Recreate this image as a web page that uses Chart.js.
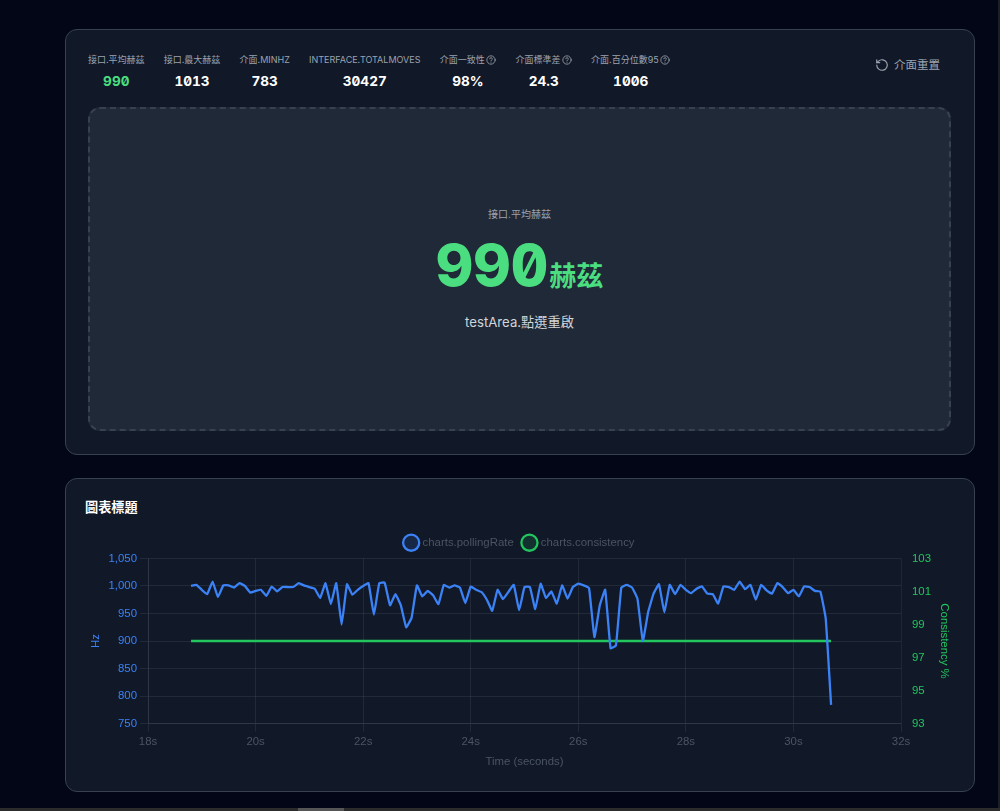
<!DOCTYPE html>
<html lang="zh-Hant">
<head>
<meta charset="utf-8">
<title>圖表標題</title>
<script src="https://cdn.jsdelivr.net/npm/chart.js@4"></script>
<style>
*{box-sizing:border-box}
html,body{margin:0;height:100%;overflow:hidden;background:#020617;color:#fff;font-family:Inter,"Noto Sans CJK TC",sans-serif}
.card{position:absolute;left:65px;width:910px;background:#111827;border:1px solid #374151;border-radius:12px}
#topCard{top:29px;height:426px}
#chartCard{top:478px;height:314px}
#stats{position:absolute;left:22px;top:24px;display:flex;gap:19.2px}
.stat{display:flex;flex-direction:column;align-items:center;white-space:nowrap}
.stat .lbl{font-size:9px;line-height:12px;color:#9ca3af;display:flex;align-items:center;gap:1.5px}
.stat .val{font:bold 13.6px Inter,sans-serif;font-feature-settings:"zero","tnum";line-height:18px;margin-top:6px;color:#fff}
.stat .val.green{color:#4ade80}
.q{width:10px;height:10px}
#reset{position:absolute;left:809px;top:27px;display:flex;align-items:center;gap:5px;font-size:11.5px;line-height:16px;color:#9ca3af}
#testArea{position:absolute;left:22px;top:77px;width:863px;height:324px;background:#1f2937;border:2px dashed #374151;border-radius:12px}
#areaLbl{position:absolute;left:0;right:0;top:99px;text-align:center;font-size:10px;line-height:12px;color:#9ca3af}
#bigVal{position:absolute;left:0;right:0;top:120px;display:flex;justify-content:center;align-items:baseline;color:#4ade80}
#bigVal b{font:800 58px Inter,sans-serif;font-feature-settings:"zero","tnum";line-height:72px}
#bigVal span{font-size:27px;font-weight:600;margin-left:1px}
#hint{position:absolute;left:0;right:0;top:204px;text-align:center;font-size:13.2px;line-height:18px;color:#d1d5db}
#chartTitle{position:absolute;left:19px;top:20px;font-size:13.2px;font-weight:bold;line-height:16px;color:#fff}
#chartBox{position:absolute;left:19px;top:48px;width:870px;height:246px}
#barBottom{position:absolute;left:0;right:0;top:808px;height:3px;background:#2b2b2b}
#thumb{position:absolute;left:298px;top:808px;width:46px;height:3px;background:#555}
#barRight{position:absolute;left:998px;top:0;width:2px;height:808px;background:#1a1f2b}
</style>
</head>
<body>
<div class="card" id="topCard">
  <div id="stats"></div>
  <div id="reset">
    <svg width="14" height="14" viewBox="0 0 24 24" fill="none" stroke="#9ca3af" stroke-width="2" stroke-linecap="round" stroke-linejoin="round"><path d="M3 12a9 9 0 1 0 3-6.7L3 8"/><path d="M3 3v5h5"/></svg>
    <span>介面重置</span>
  </div>
  <div id="testArea">
    <div id="areaLbl">接口.平均赫茲</div>
    <div id="bigVal"><b>990</b><span>赫茲</span></div>
    <div id="hint">testArea.點選重啟</div>
  </div>
</div>
<div class="card" id="chartCard">
  <div id="chartTitle">圖表標題</div>
  <div id="chartBox"><canvas id="rateChart"></canvas></div>
</div>
<div id="barRight"></div><div id="barBottom"></div><div id="thumb"></div>
<script>
// =======================
// DATA
// =======================
const statLabels = ["接口.平均赫茲","接口.最大赫茲","介面.MINHZ","INTERFACE.TOTALMOVES","介面一致性","介面標準差","介面.百分位數95"];
const statValues = ["990","1013","783","30427","98%","24.3","1006"];
const statHelp = [false,false,false,false,true,true,true];

const times = [
  18.8,18.9,19.0,19.1,19.2,19.3,19.4,19.5,19.6,19.7,19.8,19.9,
  20.0,20.1,20.2,20.3,20.4,20.5,20.6,20.7,20.8,20.9,21.0,21.1,21.2,21.3,21.4,21.5,21.6,21.7,21.8,21.9,
  22.0,22.1,22.2,22.3,22.4,22.5,22.6,22.7,22.8,22.9,23.0,23.1,23.2,23.3,23.4,23.5,23.6,23.7,23.8,23.9,
  24.0,24.1,24.2,24.3,24.4,24.5,24.6,24.7,24.8,24.9,25.0,25.1,25.2,25.3,25.4,25.5,25.6,25.7,25.8,25.9,
  26.0,26.1,26.2,26.3,26.4,26.5,26.6,26.7,26.8,26.9,27.0,27.1,27.2,27.3,27.4,27.5,27.6,27.7,27.8,27.9,
  28.0,28.1,28.2,28.3,28.4,28.5,28.6,28.7,28.8,28.9,29.0,29.1,29.2,29.3,29.4,29.5,29.6,29.7,29.8,29.9,
  30.0,30.1,30.2,30.3,30.4,30.5,30.6,30.7
];
const pollingRate = [
  1000,1002,993,985,1008,980,1001,1001,997,1005,1000,988,
  991,993,982,999,990,998,998,998,1005,1001,998,995,978,1005,967,1005,930,1003,984,993,
  1000,1005,948,1005,1006,965,985,965,925,942,1001,981,991,983,967,1002,997,1001,997,969,
  999,993,989,975,955,993,976,989,1002,956,998,998,958,1004,978,990,968,1001,977,998,
  1004,1001,996,907,965,993,887,892,997,1002,997,977,900,953,986,1003,952,1002,985,1002,
  993,987,995,999,986,985,968,999,998,993,1008,994,1002,975,1002,992,986,1005,998,987,
  993,981,999,998,991,990,941,784
];
const consistency = [
  98,98,98,98,98,98,98,98,98,98,98,98,
  98,98,98,98,98,98,98,98,98,98,98,98,98,98,98,98,98,98,98,98,
  98,98,98,98,98,98,98,98,98,98,98,98,98,98,98,98,98,98,98,98,
  98,98,98,98,98,98,98,98,98,98,98,98,98,98,98,98,98,98,98,98,
  98,98,98,98,98,98,98,98,98,98,98,98,98,98,98,98,98,98,98,98,
  98,98,98,98,98,98,98,98,98,98,98,98,98,98,98,98,98,98,98,98,
  98,98,98,98,98,98,98,98
];

// =======================
// STATS ROW
// =======================
const qIcon = '<svg class="q" viewBox="0 0 24 24" fill="none" stroke="#9ca3af" stroke-width="2" stroke-linecap="round"><circle cx="12" cy="12" r="10"/><path d="M9 9a3 3 0 0 1 6 1c0 2-3 2-3 4"/><path d="M12 17.5h.01"/></svg>';
document.getElementById("stats").innerHTML = statLabels.map((l,i)=>`
  <div class="stat">
    <div class="lbl">${l}${statHelp[i] ? qIcon : ""}</div>
    <div class="val${i === 0 ? " green" : ""}">${statValues[i]}</div>
  </div>`).join("");

// =======================
// CHART
// =======================
const blue = "#3b82f6", green = "#22c55e", grey = "#4b5563", gridColor = "rgba(75,85,99,0.3)";
const chartFont = {family:"'Liberation Sans',Arial,sans-serif", size:11.4};

new Chart(document.getElementById("rateChart"),{
  type:"line",
  data:{
    datasets:[
      {
        label:"charts.pollingRate",
        data:times.map((t,i)=>({x:t,y:pollingRate[i]})),
        borderColor:blue,
        backgroundColor:"rgba(59,130,246,0.15)",
        borderWidth:2.3,
        pointRadius:0,
        tension:0.1,
        yAxisID:"y"
      },
      {
        label:"charts.consistency",
        data:times.map((t,i)=>({x:t,y:consistency[i]})),
        borderColor:green,
        backgroundColor:"rgba(34,197,94,0.15)",
        borderWidth:2.3,
        pointRadius:0,
        tension:0.1,
        yAxisID:"y1"
      }
    ]
  },
  options:{
    responsive:true,
    maintainAspectRatio:false,
    animation:false,
    plugins:{
      legend:{
        labels:{usePointStyle:true,pointStyle:"circle",boxHeight:12,color:grey,font:chartFont}
      }
    },
    scales:{
      x:{
        type:"linear",
        min:18,
        max:32,
        ticks:{stepSize:2,color:grey,font:chartFont,maxRotation:0,callback:v=>v+"s"},
        grid:{color:gridColor},
        border:{color:gridColor},
        title:{display:true,text:"Time (seconds)",color:grey,font:chartFont}
      },
      y:{
        position:"left",
        min:750,
        max:1050,
        afterFit:s=>{s.width = 63},
        ticks:{stepSize:50,color:blue,font:chartFont},
        grid:{color:gridColor},
        border:{color:gridColor},
        title:{display:true,text:"Hz",color:blue,font:chartFont}
      },
      y1:{
        position:"right",
        min:93,
        max:103,
        afterFit:s=>{s.width = 54},
        ticks:{stepSize:2,color:green,font:chartFont},
        grid:{drawOnChartArea:false,display:false},
        title:{display:true,text:"Consistency %",color:green,font:chartFont}
      }
    }
  }
});
</script>
</body>
</html>
